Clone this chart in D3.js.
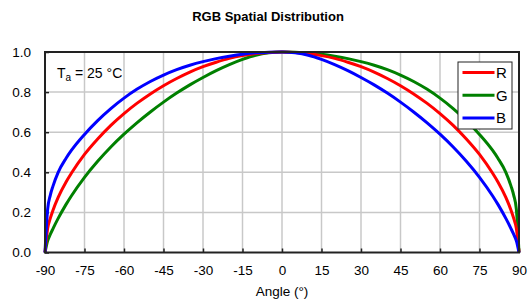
<!DOCTYPE html>
<html>
<head>
<meta charset="utf-8">
<script src="https://cdn.jsdelivr.net/npm/d3@7"></script>
<style>
  body { margin: 0; background: #fff; }
  text { font-family: "Liberation Sans", Arial, sans-serif; }
</style>
</head>
<body>
<div id="chart"></div>
<script>
// angle (deg) and relative intensity
const angles = [-90,-89,-88,-87,-85,-82,-80,-75,-70,-65,-60,-55,-50,-45,-40,-35,-30,-25,-20,-15,-10,-5,0,
  5,10,15,20,25,30,35,40,45,50,55,60,65,70,75,80,82,85,87,88,89,90];
const red = [0,0.12,0.17,0.21,0.275,0.352,0.395,0.489,0.566,0.634,0.693,0.745,0.791,0.832,0.868,0.90,0.927,0.949,0.968,0.982,0.992,0.998,1,
  0.998,0.992,0.982,0.968,0.949,0.927,0.90,0.868,0.832,0.791,0.745,0.693,0.634,0.566,0.489,0.395,0.352,0.275,0.21,0.17,0.12,0];
const green = [0,0.058,0.09,0.118,0.17,0.24,0.282,0.375,0.455,0.526,0.59,0.648,0.701,0.75,0.795,0.836,0.873,0.907,0.937,0.963,0.984,0.996,1,
  0.999,0.996,0.989,0.979,0.967,0.952,0.934,0.912,0.885,0.853,0.815,0.77,0.718,0.658,0.589,0.509,0.47,0.40,0.33,0.285,0.215,0];
const blue = [0,0.215,0.285,0.33,0.40,0.47,0.509,0.589,0.658,0.718,0.77,0.815,0.853,0.885,0.912,0.934,0.952,0.967,0.979,0.989,0.996,0.999,1,
  0.996,0.984,0.963,0.937,0.907,0.873,0.836,0.795,0.75,0.701,0.648,0.59,0.526,0.455,0.375,0.282,0.24,0.17,0.118,0.09,0.058,0];

const xTicks = [-90,-75,-60,-45,-30,-15,0,15,30,45,60,75,90];
const yTicks = [0,0.2,0.4,0.6,0.8,1.0];

const series = [
  { name: 'G', values: green, color: '#008000' },
  { name: 'R', values: red, color: '#ff0000' },
  { name: 'B', values: blue, color: '#0000ff' }
];
const legendOrder = ['R', 'G', 'B'];

const width = 528, height = 302;
const margin = { top: 52, right: 9, bottom: 49.5, left: 45 };

const svg = d3.select('#chart').append('svg')
  .attr('width', width)
  .attr('height', height);

const x = d3.scaleLinear().domain([-90, 90]).range([margin.left, width - margin.right]);
const y = d3.scaleLinear().domain([0, 1]).range([height - margin.bottom, margin.top]);

// grid
svg.append('g')
  .selectAll('line')
  .data(xTicks.slice(1, -1))
  .enter().append('line')
  .attr('x1', d => x(d)).attr('x2', d => x(d))
  .attr('y1', y(0)).attr('y2', y(1))
  .attr('stroke', '#c8c8c8').attr('stroke-width', 1.5);

svg.append('g')
  .selectAll('line')
  .data(yTicks.slice(1, -1))
  .enter().append('line')
  .attr('x1', x(-90)).attr('x2', x(90))
  .attr('y1', d => y(d)).attr('y2', d => y(d))
  .attr('stroke', '#c8c8c8').attr('stroke-width', 1.5);

// axes with inward ticks
const xAxis = svg.append('g')
  .attr('transform', `translate(0,${y(0)})`)
  .call(d3.axisBottom(x).tickValues(xTicks).tickSize(-4).tickPadding(13).tickFormat(d => String(d)));
const yAxis = svg.append('g')
  .attr('transform', `translate(${x(-90)},0)`)
  .call(d3.axisLeft(y).tickValues(yTicks).tickSize(-4).tickPadding(14).tickFormat(d3.format('.1f')));

[xAxis, yAxis].forEach(a => {
  a.select('.domain').remove();
  a.selectAll('.tick line').attr('stroke', '#222').attr('stroke-width', 1.5);
  a.selectAll('.tick text').attr('fill', '#000').style('font-size', '13.5px');
});

// curves
const line = d3.line()
  .x(d => x(d[0]))
  .y(d => y(d[1]))
  .curve(d3.curveMonotoneX);

svg.append('g')
  .selectAll('path')
  .data(series)
  .enter().append('path')
  .attr('d', s => line(angles.map((a, i) => [a, s.values[i]])))
  .attr('fill', 'none')
  .attr('stroke', s => s.color)
  .attr('stroke-width', 3);

// frame
svg.append('rect')
  .attr('x', x(-90)).attr('y', y(1))
  .attr('width', x(90) - x(-90)).attr('height', y(0) - y(1))
  .attr('fill', 'none').attr('stroke', '#222').attr('stroke-width', 2);

// title and axis label
svg.append('text')
  .attr('x', 268).attr('y', 21)
  .attr('text-anchor', 'middle')
  .style('font-size', '13px').style('font-weight', 'bold')
  .text('RGB Spatial Distribution');

svg.append('text')
  .attr('x', x(0)).attr('y', 296)
  .attr('text-anchor', 'middle')
  .style('font-size', '13.5px')
  .text('Angle (°)');

// annotation
const ta = svg.append('text')
  .attr('x', 57).attr('y', 78)
  .style('font-size', '14px');
ta.append('tspan').text('T');
ta.append('tspan').attr('dy', 3).style('font-size', '10px').text('a');
ta.append('tspan').attr('dy', -3).text(' = 25 °C');

// legend
const lg = svg.append('g').attr('transform', 'translate(458,62)');
lg.append('rect')
  .attr('width', 54).attr('height', 67)
  .attr('fill', '#fff').attr('stroke', '#222').attr('stroke-width', 1);
legendOrder.forEach((n, i) => {
  const s = series.find(d => d.name === n);
  const row = lg.append('g').attr('transform', `translate(0,${10.5 + i * 22.7})`);
  row.append('line')
    .attr('x1', 4.5).attr('x2', 36.5)
    .attr('stroke', s.color).attr('stroke-width', 3);
  row.append('text')
    .attr('x', 38).attr('y', 5.5)
    .style('font-size', '15px')
    .text(n);
});
</script>
</body>
</html>
